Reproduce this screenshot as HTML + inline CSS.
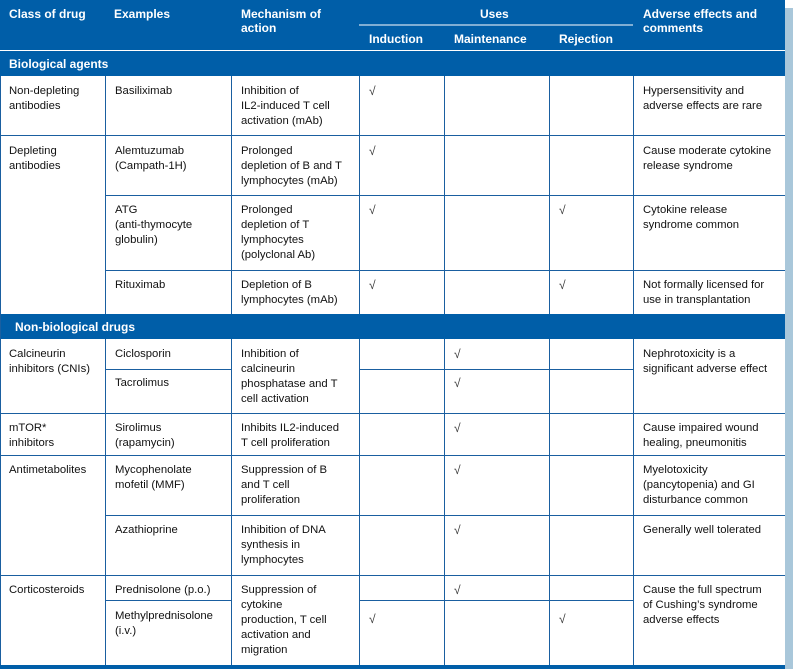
<!DOCTYPE html>
<html><head><style>
body{margin:0;width:793px;height:669px;background:#fff;position:relative;overflow:hidden;font-family:"Liberation Sans",Arial,sans-serif;}
.t{position:absolute;font-size:11.3px;line-height:15px;color:#111;white-space:nowrap;}
.h{position:absolute;font-size:12px;line-height:14px;color:#fff;font-weight:bold;white-space:nowrap;}
.ck{position:absolute;font-size:12px;color:#333;}
svg{position:absolute;left:0;top:0;}
</style></head><body>
<svg width="793" height="669">
<rect x="785" y="8" width="8" height="661" fill="#a9c7da"/>
<rect x="0" y="0" width="785" height="50" fill="#005ea8"/>
<rect x="0" y="51" width="785" height="25" fill="#005ea8"/>
<rect x="0" y="314" width="785" height="25" fill="#005ea8"/>
<line x1="359" y1="25" x2="633" y2="25" stroke="#fff" stroke-width="1"/>
<g stroke="#1a5fa0" stroke-width="1" shape-rendering="crispEdges">
<line x1="0.5" y1="76" x2="0.5" y2="669"/>
<line x1="105.5" y1="76" x2="105.5" y2="314"/><line x1="105.5" y1="339" x2="105.5" y2="667"/>
<line x1="231.5" y1="76" x2="231.5" y2="314"/><line x1="231.5" y1="339" x2="231.5" y2="667"/>
<line x1="359.5" y1="76" x2="359.5" y2="314"/><line x1="359.5" y1="339" x2="359.5" y2="667"/>
<line x1="444.5" y1="76" x2="444.5" y2="314"/><line x1="444.5" y1="339" x2="444.5" y2="667"/>
<line x1="549.5" y1="76" x2="549.5" y2="314"/><line x1="549.5" y1="339" x2="549.5" y2="667"/>
<line x1="633.5" y1="76" x2="633.5" y2="314"/><line x1="633.5" y1="339" x2="633.5" y2="667"/>
<line x1="0" y1="135.5" x2="785" y2="135.5"/>
<line x1="105" y1="195.5" x2="785" y2="195.5"/>
<line x1="105" y1="270.5" x2="785" y2="270.5"/>
<line x1="105" y1="369.5" x2="231" y2="369.5"/><line x1="359" y1="369.5" x2="633" y2="369.5"/>
<line x1="0" y1="413.5" x2="785" y2="413.5"/>
<line x1="0" y1="455.5" x2="785" y2="455.5"/>
<line x1="105" y1="515.5" x2="785" y2="515.5"/>
<line x1="0" y1="575.5" x2="785" y2="575.5"/>
<line x1="105" y1="600.5" x2="231" y2="600.5"/><line x1="359" y1="600.5" x2="633" y2="600.5"/>
</g>
<rect x="0" y="665" width="785" height="4" fill="#005ea8"/>
</svg>
<div class="h" style="left:9px;top:7px">Class of drug</div>
<div class="h" style="left:114px;top:7px">Examples</div>
<div class="h" style="left:241px;top:7px">Mechanism of<br>action</div>
<div class="h" style="left:480px;top:7px">Uses</div>
<div class="h" style="left:369px;top:32px">Induction</div>
<div class="h" style="left:454px;top:32px">Maintenance</div>
<div class="h" style="left:559px;top:32px">Rejection</div>
<div class="h" style="left:643px;top:7px">Adverse effects and<br>comments</div>
<div class="h" style="left:9px;top:57px">Biological agents</div>
<div class="h" style="left:15px;top:320px">Non-biological drugs</div>

<div class="t" style="left:9px;top:84px">Non-depleting<br>antibodies</div>
<div class="t" style="left:115px;top:84px">Basiliximab</div>
<div class="t" style="left:241px;top:84px">Inhibition of<br>IL2-induced T cell<br>activation (mAb)</div>
<div class="ck" style="left:369px;top:84px">√</div>
<div class="t" style="left:643px;top:84px">Hypersensitivity and<br>adverse effects are rare</div>

<div class="t" style="left:9px;top:144px">Depleting<br>antibodies</div>
<div class="t" style="left:115px;top:144px">Alemtuzumab<br>(Campath-1H)</div>
<div class="t" style="left:241px;top:144px">Prolonged<br>depletion of B and T<br>lymphocytes (mAb)</div>
<div class="ck" style="left:369px;top:144px">√</div>
<div class="t" style="left:643px;top:144px">Cause moderate cytokine<br>release syndrome</div>

<div class="t" style="left:115px;top:203px">ATG<br>(anti-thymocyte<br>globulin)</div>
<div class="t" style="left:241px;top:203px">Prolonged<br>depletion of T<br>lymphocytes<br>(polyclonal Ab)</div>
<div class="ck" style="left:369px;top:203px">√</div>
<div class="ck" style="left:559px;top:203px">√</div>
<div class="t" style="left:643px;top:203px">Cytokine release<br>syndrome common</div>

<div class="t" style="left:115px;top:278px">Rituximab</div>
<div class="t" style="left:241px;top:278px">Depletion of B<br>lymphocytes (mAb)</div>
<div class="ck" style="left:369px;top:278px">√</div>
<div class="ck" style="left:559px;top:278px">√</div>
<div class="t" style="left:643px;top:278px">Not formally licensed for<br>use in transplantation</div>

<div class="t" style="left:9px;top:347px">Calcineurin<br>inhibitors (CNIs)</div>
<div class="t" style="left:115px;top:347px">Ciclosporin</div>
<div class="t" style="left:115px;top:376px">Tacrolimus</div>
<div class="t" style="left:241px;top:347px">Inhibition of<br>calcineurin<br>phosphatase and T<br>cell activation</div>
<div class="ck" style="left:454px;top:347px">√</div>
<div class="ck" style="left:454px;top:376px">√</div>
<div class="t" style="left:643px;top:347px">Nephrotoxicity is a<br>significant adverse effect</div>

<div class="t" style="left:9px;top:421px">mTOR*<br>inhibitors</div>
<div class="t" style="left:115px;top:421px">Sirolimus<br>(rapamycin)</div>
<div class="t" style="left:241px;top:421px">Inhibits IL2-induced<br>T cell proliferation</div>
<div class="ck" style="left:454px;top:421px">√</div>
<div class="t" style="left:643px;top:421px">Cause impaired wound<br>healing, pneumonitis</div>

<div class="t" style="left:9px;top:463px">Antimetabolites</div>
<div class="t" style="left:115px;top:463px">Mycophenolate<br>mofetil (MMF)</div>
<div class="t" style="left:241px;top:463px">Suppression of B<br>and T cell<br>proliferation</div>
<div class="ck" style="left:454px;top:463px">√</div>
<div class="t" style="left:643px;top:463px">Myelotoxicity<br>(pancytopenia) and GI<br>disturbance common</div>

<div class="t" style="left:115px;top:523px">Azathioprine</div>
<div class="t" style="left:241px;top:523px">Inhibition of DNA<br>synthesis in<br>lymphocytes</div>
<div class="ck" style="left:454px;top:523px">√</div>
<div class="t" style="left:643px;top:523px">Generally well tolerated</div>

<div class="t" style="left:9px;top:583px">Corticosteroids</div>
<div class="t" style="left:115px;top:583px">Prednisolone (p.o.)</div>
<div class="t" style="left:115px;top:609px">Methylprednisolone<br>(i.v.)</div>
<div class="t" style="left:241px;top:583px">Suppression of<br>cytokine<br>production, T cell<br>activation and<br>migration</div>
<div class="ck" style="left:454px;top:583px">√</div>
<div class="ck" style="left:369px;top:612px">√</div>
<div class="ck" style="left:559px;top:612px">√</div>
<div class="t" style="left:643px;top:583px">Cause the full spectrum<br>of Cushing’s syndrome<br>adverse effects</div>
</body></html>
